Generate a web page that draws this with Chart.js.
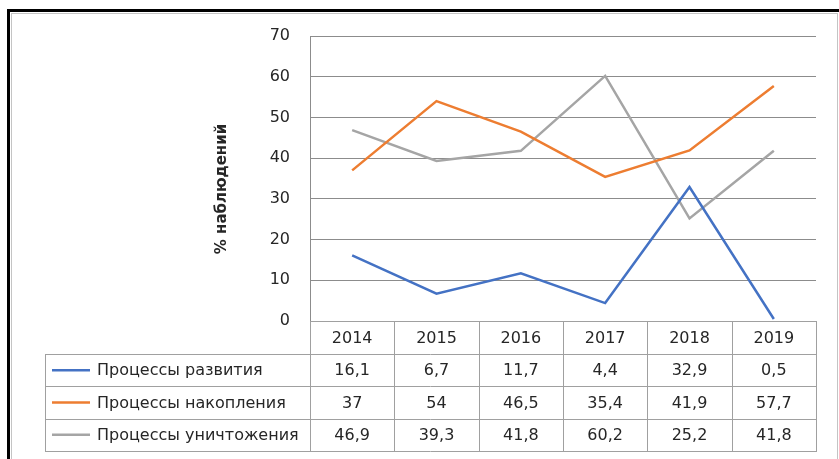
<!DOCTYPE html>
<html>
<head>
  <title>Процессы</title>
  <script src="https://cdn.jsdelivr.net/npm/chart.js"></script>
  <style>
    body { margin: 0; background: #fff; }
  </style>
</head>
<body>
  <canvas id="chart" width="839" height="459"></canvas>

  <script>
    const years = ['2014', '2015', '2016', '2017', '2018', '2019'];
    const seriesNames = ['Процессы развития', 'Процессы накопления', 'Процессы уничтожения'];
    const razvitie = [16.1, 6.7, 11.7, 4.4, 32.9, 0.5];
    const nakoplenie = [37, 54, 46.5, 35.4, 41.9, 57.7];
    const unichtozhenie = [46.9, 39.3, 41.8, 60.2, 25.2, 41.8];
    const yTicks = [0, 10, 20, 30, 40, 50, 60, 70];
    const axisTitle = '% наблюдений';

    const colors = ['#4472C4', '#ED7D31', '#A5A5A5'];
    const fontFamily = '"DejaVu Sans", sans-serif';
    const gridColor = '#8c8c8c';
    const tableColor = '#a0a0a0';
    const textColor = '#262626';

    function fmt(v) {
      return String(v).replace('.', ',');
    }

    // frame, axis title and data table under the plot
    const tablePlugin = {
      id: 'dataTable',
      afterDraw(chart) {
        const ctx = chart.ctx;
        const area = chart.chartArea;
        const xs = chart.scales.x;
        const n = years.length;

        ctx.save();

        // outer frame
        ctx.fillStyle = '#000';
        ctx.fillRect(7, 9, 839 - 7, 3);
        ctx.fillRect(7, 9, 3, 459 - 9);
        ctx.strokeStyle = '#c4c4c4';
        ctx.lineWidth = 1;
        ctx.strokeRect(11.5, 13.5, 826, 500);

        // axis title
        ctx.save();
        ctx.translate(222, 189);
        ctx.rotate(-Math.PI / 2);
        ctx.fillStyle = textColor;
        ctx.font = 'bold 15px ' + fontFamily;
        ctx.textAlign = 'center';
        ctx.textBaseline = 'middle';
        ctx.fillText(axisTitle, 0, 0);
        ctx.restore();

        // column edges from the category scale
        const edges = [area.left];
        for (let i = 1; i < n; i++) {
          edges.push((xs.getPixelForValue(i - 1) + xs.getPixelForValue(i)) / 2);
        }
        edges.push(area.right);

        const tableLeft = 45;
        const rowH = 32.25;
        const top = area.bottom;
        const rows = [top, top + 33];
        for (let r = 1; r <= 3; r++) rows.push(rows[1] + r * rowH);

        ctx.strokeStyle = tableColor;
        ctx.lineWidth = 1;
        ctx.beginPath();
        // horizontal lines
        ctx.moveTo(area.left, Math.round(rows[0]) + 0.5);
        ctx.lineTo(area.right, Math.round(rows[0]) + 0.5);
        for (let r = 1; r < rows.length; r++) {
          ctx.moveTo(tableLeft, Math.round(rows[r]) + 0.5);
          ctx.lineTo(area.right, Math.round(rows[r]) + 0.5);
        }
        // vertical lines
        ctx.moveTo(tableLeft + 0.5, Math.round(rows[1]));
        ctx.lineTo(tableLeft + 0.5, Math.round(rows[4]) + 1);
        edges.forEach(x => {
          ctx.moveTo(Math.round(x) + 0.5, Math.round(rows[0]));
          ctx.lineTo(Math.round(x) + 0.5, Math.round(rows[4]) + 1);
        });
        ctx.stroke();

        ctx.fillStyle = textColor;
        ctx.font = '16px ' + fontFamily;
        ctx.textBaseline = 'middle';
        ctx.textAlign = 'center';

        // header years
        years.forEach((y, i) => {
          ctx.fillText(y, xs.getPixelForValue(i), (rows[0] + rows[1]) / 2 + 1);
        });

        const seriesValues = [razvitie, nakoplenie, unichtozhenie];
        seriesValues.forEach((vals, r) => {
          const cy = (rows[r + 1] + rows[r + 2]) / 2 + 1;
          ctx.textAlign = 'center';
          vals.forEach((v, i) => {
            ctx.fillText(fmt(v), xs.getPixelForValue(i), cy);
          });
          // legend key
          ctx.strokeStyle = colors[r];
          ctx.lineWidth = 2.5;
          ctx.beginPath();
          ctx.moveTo(52, cy - 1);
          ctx.lineTo(90, cy - 1);
          ctx.stroke();
          ctx.textAlign = 'left';
          ctx.fillText(seriesNames[r], 97, cy);
        });

        ctx.restore();
      }
    };

    const chart = new Chart(document.getElementById('chart').getContext('2d'), {
      type: 'line',
      data: {
        labels: years,
        datasets: [
          { label: seriesNames[0], data: razvitie, borderColor: colors[0], backgroundColor: colors[0] },
          { label: seriesNames[1], data: nakoplenie, borderColor: colors[1], backgroundColor: colors[1] },
          { label: seriesNames[2], data: unichtozhenie, borderColor: colors[2], backgroundColor: colors[2] },
        ],
      },
      options: {
        responsive: false,
        animation: false,
        elements: {
          line: { borderWidth: 2.5, tension: 0 },
          point: { radius: 0 },
        },
        layout: {
          padding: { left: 210, right: 23, top: 36, bottom: 138 },
        },
        plugins: {
          legend: { display: false },
          tooltip: { enabled: false },
        },
        scales: {
          x: {
            display: false,
            offset: true,
          },
          y: {
            min: 0,
            max: 70,
            afterFit(scale) { scale.width = 100; },
            afterBuildTicks(scale) { scale.ticks = yTicks.map(v => ({ value: v })); },
            grid: { color: gridColor, drawTicks: false },
            border: { color: gridColor },
            ticks: {
              padding: 20,
              color: textColor,
              font: { family: fontFamily, size: 16 },
            },
          },
        },
      },
      plugins: [tablePlugin],
    });
  </script>
</body>
</html>
